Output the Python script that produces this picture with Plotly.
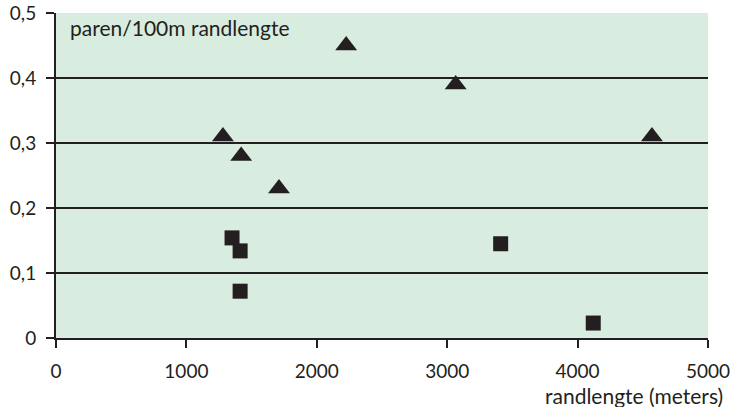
import plotly.graph_objects as go

# Data
tri_x = [1280, 1420, 1710, 2225, 3065, 4570]
tri_y = [0.31, 0.28, 0.23, 0.45, 0.39, 0.31]
sq_x = [1350, 1412, 1412, 3410, 4120]
sq_y = [0.154, 0.134, 0.072, 0.145, 0.023]

x_ticks = [0, 1000, 2000, 3000, 4000, 5000]
x_ticktext = ["0", "1000", "2000", "3000", "4000", "5000"]
y_ticks = [0, 0.1, 0.2, 0.3, 0.4, 0.5]
y_ticktext = ["0", "0,1", "0,2", "0,3", "0,4", "0,5"]
grid_vals = [0.1, 0.2, 0.3, 0.4]

FONT = "Lato"
INK = "#231f20"

fig = go.Figure()
fig.add_trace(go.Scatter(
    x=tri_x, y=tri_y, mode="markers",
    marker=dict(symbol="triangle-up", size=19, color=INK, line=dict(width=0)),
    showlegend=False, hoverinfo="skip"))
fig.add_trace(go.Scatter(
    x=sq_x, y=sq_y, mode="markers",
    marker=dict(symbol="square", size=15, color=INK, line=dict(width=0)),
    showlegend=False, hoverinfo="skip"))

for g in grid_vals:
    fig.add_shape(type="line", xref="paper", yref="y", x0=0, x1=1, y0=g, y1=g,
                  line=dict(color=INK, width=2), layer="below")

fig.update_layout(
    width=739, height=407,
    margin=dict(l=56, r=31, t=13, b=69, autoexpand=False),
    paper_bgcolor="white",
    plot_bgcolor="#d8ecdf",
    font=dict(family=FONT, color=INK, size=19),
    xaxis=dict(range=[0, 5000], tickvals=x_ticks, ticktext=x_ticktext,
               showgrid=False, zeroline=False, showline=True, linecolor=INK,
               linewidth=2, ticks="outside", ticklen=8, tickwidth=2,
               tickcolor=INK, automargin=False, ticklabelstandoff=7,
               tickfont=dict(size=19, family=FONT, color=INK)),
    yaxis=dict(range=[0, 0.5], tickvals=y_ticks, ticktext=y_ticktext,
               showgrid=False, zeroline=False, showline=True, linecolor=INK,
               linewidth=2, ticks="outside", ticklen=8, tickwidth=2,
               tickcolor=INK, automargin=False, ticklabelstandoff=6,
               tickfont=dict(size=19, family=FONT, color=INK)),
    annotations=[
        dict(text="paren/100m randlengte", xref="paper", yref="paper",
             x=0.018, y=1.0, xanchor="left", yanchor="top", showarrow=False,
             font=dict(size=21, family=FONT, color=INK)),
        dict(text="randlengte (meters)", xref="paper", yref="paper",
             x=1.026, y=-0.133, xanchor="right", yanchor="top", showarrow=False,
             font=dict(size=21, family=FONT, color=INK)),
    ],
)

# remove the browser's default 8px body margin so the figure sits at the corner
fig.write_html("out.html", config={"displayModeBar": False},
               post_script="document.body.style.margin='0';")
